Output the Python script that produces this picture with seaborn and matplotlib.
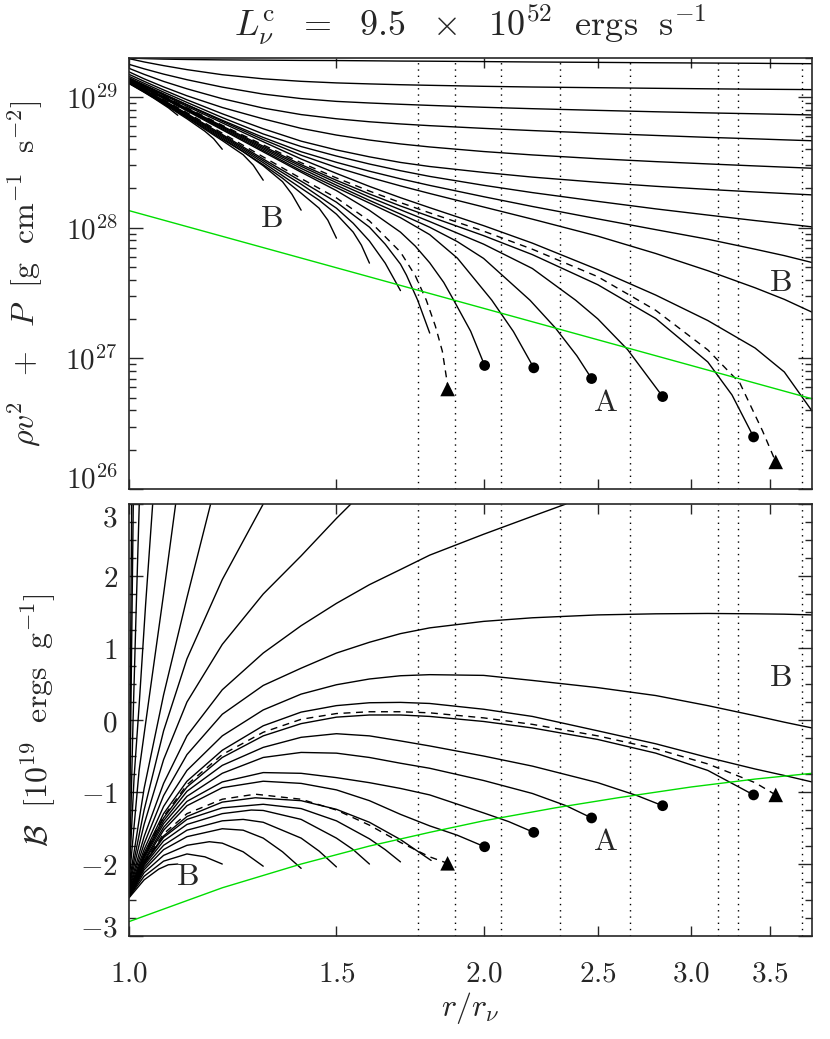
import numpy as np
import pandas as pd
import matplotlib
matplotlib.use('Agg')
import matplotlib.pyplot as plt
import seaborn as sns
from matplotlib.ticker import FixedLocator, FixedFormatter, NullLocator, NullFormatter, LogLocator, MultipleLocator

# ---------------- data ----------------
# common radius grid (r / r_nu) for the curves that run to the right edge
r_grid = [1.0, 1.03, 1.07, 1.12, 1.2, 1.3, 1.4, 1.5, 1.6, 1.7, 1.8, 2.0, 2.2, 2.5, 2.8, 3.1, 3.4, 3.6, 3.8]

# top panel: log10(rho v^2 + P) for the curves that leave through the right edge
top_open = [
    [29.298, 29.294, 29.290, 29.287, 29.284, 29.282, 29.280, 29.279, 29.277, 29.275, 29.274, 29.271, 29.268, 29.265, 29.262, 29.260, 29.258, 29.256, 29.255],
    [29.2936, 29.2683, 29.2401, 29.2095, 29.1705, 29.1391, 29.1200, 29.1078, 29.1002, 29.0940, 29.0894, 29.0818, 29.0764, 29.0711, 29.0665, 29.0627, 29.0596, 29.0581, 29.0566],
    [29.2500, 29.2156, 29.1751, 29.1323, 29.0757, 29.0222, 28.9878, 28.9664, 28.9541, 28.9442, 28.9358, 28.9213, 28.9105, 28.8976, 28.8869, 28.8784, 28.8716, 28.8670, 28.8624],
    [29.2194, 29.1735, 29.1193, 29.0627, 28.9870, 28.9151, 28.8654, 28.8333, 28.8104, 28.7936, 28.7806, 28.7599, 28.7431, 28.7225, 28.7057, 28.6911, 28.6797, 28.6720, 28.6651],
    [29.1927, 29.1391, 29.0772, 29.0092, 28.9197, 28.8326, 28.7599, 28.7087, 28.6705, 28.6407, 28.6177, 28.5826, 28.5566, 28.5275, 28.5053, 28.4878, 28.4725, 28.4633, 28.4549],
    [29.1735, 29.1200, 29.0543, 28.9786, 28.8716, 28.7569, 28.6621, 28.5948, 28.5420, 28.4992, 28.4679, 28.4228, 28.3868, 28.3471, 28.3165, 28.2928, 28.2729, 28.2615, 28.2507],
    [29.1583, 29.1047, 29.0375, 28.9587, 28.8425, 28.7171, 28.6208, 28.5481, 28.4870, 28.4358, 28.3922, 28.3242, 28.2683, 28.2011, 28.1437, 28.0963, 28.0543, 28.0298, 28.0061],
    [29.1468, 29.0925, 29.0237, 28.9411, 28.8219, 28.6904, 28.5810, 28.5000, 28.4320, 28.3738, 28.3234, 28.2370, 28.1621, 28.0673, 27.9847, 27.9113, 27.8349, 27.7859, 27.7332],
    [29.1430, 29.0894, 29.0206, 28.9396, 28.8142, 28.6743, 28.5543, 28.4610, 28.3853, 28.3196, 28.2615, 28.1582, 28.0650, 27.9350, 27.8020, 27.6705, 27.5397, 27.4511, 27.3532],
    [29.1391, 29.0849, 29.0138, 28.9289, 28.8020, 28.6575, 28.5252, 28.4151, 28.3157, 28.2294, 28.1529, 28.0153, 27.8815, 27.6789, 27.4839, 27.2890, 27.0787, 26.8952, 26.5971],
]

# top panel: curves that stop (A curves end in a dot, B curves just stop)
top_stop_r = [
    [1.0, 1.03, 1.07, 1.12, 1.2, 1.3, 1.4, 1.5, 1.6, 1.7, 1.8, 2.0, 2.2, 2.5, 2.8, 3.1, 3.25, 3.39],
    [1.0, 1.03, 1.07, 1.12, 1.2, 1.3, 1.4, 1.5, 1.6, 1.7, 1.8, 2.0, 2.2, 2.394, 2.5, 2.65, 2.838],
    [1.0, 1.03, 1.07, 1.12, 1.2, 1.3, 1.4, 1.5, 1.6, 1.7, 1.8, 1.9, 2.0, 2.19, 2.3, 2.4, 2.47],
    [1.0, 1.03, 1.07, 1.12, 1.2, 1.3, 1.4, 1.5, 1.6, 1.7, 1.8, 1.9, 2.032, 2.12, 2.206],
    [1.0, 1.03, 1.07, 1.12, 1.2, 1.3, 1.4, 1.5, 1.6, 1.7, 1.75, 1.8, 1.85, 1.883, 1.95, 2.004],
    [1.0, 1.03, 1.07, 1.12, 1.2, 1.3, 1.4, 1.5, 1.6, 1.65, 1.7, 1.72, 1.758, 1.8],
    [1.0, 1.03, 1.07, 1.12, 1.2, 1.3, 1.4, 1.5, 1.55, 1.6, 1.65, 1.7],
    [1.0, 1.03, 1.07, 1.12, 1.2, 1.3, 1.4, 1.45, 1.5, 1.55, 1.575, 1.6],
    [1.0, 1.03, 1.07, 1.12, 1.2, 1.3, 1.35, 1.4, 1.45, 1.475, 1.5],
    [1.0, 1.03, 1.07, 1.12, 1.2, 1.25, 1.3, 1.35, 1.375, 1.4],
    [1.0, 1.03, 1.07, 1.12, 1.2, 1.25, 1.275, 1.3],
    [1.0, 1.03, 1.07, 1.12, 1.16, 1.18, 1.2],
    [1.0, 1.03, 1.05, 1.08, 1.1],
]
top_stop = [
    [29.1330, 29.0772, 29.0031, 28.9136, 28.7775, 28.6231, 28.4824, 28.3624, 28.2576, 28.1659, 28.0856, 27.9388, 27.7936, 27.5634, 27.3043, 26.9717, 26.7194, 26.3983],
    [29.1307, 29.0742, 28.9992, 28.9090, 28.7714, 28.6124, 28.4694, 28.3448, 28.2339, 28.1368, 28.0466, 27.8738, 27.6873, 27.4449, 27.3020, 27.0665, 26.7072],
    [29.1284, 29.0719, 28.9962, 28.9044, 28.7645, 28.6017, 28.4534, 28.3249, 28.2087, 28.1040, 28.0031, 27.8930, 27.7645, 27.4442, 27.2347, 27.0191, 26.8448],
    [29.1261, 29.0688, 28.9924, 28.8991, 28.7561, 28.5902, 28.4358, 28.3066, 28.1881, 28.0764, 27.9465, 27.7668, 27.4457, 27.2049, 26.9273],
    [29.1239, 29.0657, 28.9885, 28.8937, 28.7485, 28.5803, 28.4243, 28.2836, 28.1323, 27.9656, 27.8586, 27.7309, 27.5810, 27.4579, 27.2072, 26.9450],
    [29.1193, 29.0573, 28.9748, 28.8731, 28.7133, 28.5252, 28.3555, 28.1949, 28.0038, 27.8738, 27.7209, 27.6368, 27.4457, 27.1934],
    [29.1170, 29.0543, 28.9709, 28.8670, 28.7049, 28.5122, 28.3326, 28.1491, 28.0336, 27.8975, 27.7286, 27.5183],
    [29.1147, 29.0512, 28.9664, 28.8609, 28.6965, 28.4977, 28.3020, 28.2102, 28.1032, 27.9656, 27.8662, 27.7286],
    [29.1124, 29.0482, 28.9618, 28.8540, 28.6865, 28.4816, 28.3784, 28.2638, 28.1491, 28.0573, 27.9197],
    [29.1101, 29.0451, 28.9572, 28.8471, 28.6766, 28.5810, 28.4740, 28.3517, 28.2561, 28.1338],
    [29.1078, 29.0420, 28.9534, 28.8417, 28.6667, 28.5581, 28.4778, 28.3631],
    [29.1055, 29.0390, 28.9480, 28.8333, 28.7378, 28.6804, 28.6001],
    [29.1032, 29.0359, 28.9901, 28.9174, 28.8601],
]

# top panel: the two dashed (critical) curves
top_dash_r = [
    [1.0, 1.03, 1.07, 1.12, 1.2, 1.3, 1.4, 1.5, 1.6, 1.7, 1.8, 2.0, 2.2, 2.5, 2.8, 3.1, 3.3, 3.45, 3.54],
    [1.0, 1.03, 1.07, 1.12, 1.2, 1.3, 1.4, 1.5, 1.6, 1.7, 1.75, 1.788, 1.82, 1.845, 1.864],
]
top_dash = [
    [29.1353, 29.0795, 29.0069, 28.9182, 28.7836, 28.6330, 28.4969, 28.3807, 28.2798, 28.1919, 28.1131, 27.9732, 27.8349, 27.6246, 27.3670, 27.0642, 26.8112, 26.4442, 26.2072],
    [29.1216, 29.0604, 28.9801, 28.8800, 28.7232, 28.5413, 28.3761, 28.2278, 28.0512, 27.8134, 27.6323, 27.4457, 27.2469, 27.0543, 26.7959],
]

# bottom panel: binding energy B [1e19 ergs/g]
bot_open = [
    [-2.40, -1.85, -1.30, -0.85, -0.42, -0.08, 0.11, 0.20, 0.24, 0.245, 0.23, 0.15, 0.05, -0.15, -0.33, -0.52, -0.68, -0.77, -0.86],
    [-2.38, -1.80, -1.20, -0.70, -0.22, 0.14, 0.36, 0.49, 0.57, 0.615, 0.63, 0.62, 0.55, 0.45, 0.34, 0.20, 0.06, -0.03, -0.11],
    [-2.36, -1.72, -1.05, -0.48, 0.08, 0.48, 0.72, 0.93, 1.08, 1.20, 1.28, 1.37, 1.42, 1.46, 1.475, 1.48, 1.475, 1.47, 1.46],
]
bot_steep_r = [
    [1.0, 1.03, 1.07, 1.12, 1.2, 1.3, 1.4, 1.5, 1.6, 1.7, 1.8, 2.0, 2.2, 2.349],
    [1.0, 1.03, 1.07, 1.12, 1.2, 1.3, 1.4, 1.5, 1.543],
    [1.0, 1.03, 1.07, 1.12, 1.2, 1.3],
    [1.0, 1.03, 1.07, 1.12, 1.173],
    [1.0, 1.02, 1.04, 1.07, 1.0955],
    [1.0, 1.01, 1.02, 1.033, 1.0474],
    [1.0, 1.004, 1.008, 1.014, 1.0203],
    [1.0, 1.0084],
    [1.0, 1.0053],
]
bot_steep = [
    [-2.34, -1.62, -0.88, -0.22, 0.42, 0.93, 1.31, 1.62, 1.88, 2.09, 2.29, 2.58, 2.83, 3.0],
    [-2.32, -1.45, -0.55, 0.25, 1.05, 1.75, 2.28, 2.80, 3.0],
    [-2.30, -1.25, -0.15, 0.85, 1.95, 3.0],
    [-2.28, -0.95, 0.35, 1.70, 3.0],
    [-2.26, -0.70, 0.30, 1.75, 3.0],
    [-2.24, -0.80, 0.20, 1.60, 3.0],
    [-2.22, -1.20, 0.00, 1.50, 3.0],
    [-2.20, 3.0],
    [-2.20, 3.0],
]
bot_stop_r = [
    [1.0, 1.03, 1.07, 1.12, 1.2, 1.3, 1.4, 1.5, 1.6, 1.7, 1.8, 2.0, 2.2, 2.5, 2.8, 3.1, 3.39],
    [1.0, 1.03, 1.07, 1.12, 1.2, 1.3, 1.4, 1.5, 1.6, 1.7, 1.8, 2.0, 2.2, 2.5, 2.7, 2.838],
    [1.0, 1.03, 1.07, 1.12, 1.2, 1.3, 1.4, 1.5, 1.6, 1.7, 1.8, 2.0, 2.2, 2.35, 2.47],
    [1.0, 1.03, 1.07, 1.12, 1.2, 1.3, 1.4, 1.5, 1.6, 1.7, 1.8, 2.0, 2.1, 2.206],
    [1.0, 1.03, 1.07, 1.12, 1.2, 1.3, 1.4, 1.5, 1.6, 1.7, 1.8, 1.9, 2.004],
    [1.0, 1.03, 1.07, 1.12, 1.2, 1.28, 1.4, 1.5, 1.6, 1.7, 1.805],
    [1.0, 1.03, 1.07, 1.12, 1.2, 1.3, 1.4, 1.5, 1.6, 1.65, 1.7],
    [1.0, 1.03, 1.07, 1.12, 1.2, 1.27, 1.3, 1.4, 1.5, 1.55, 1.6],
    [1.0, 1.03, 1.07, 1.12, 1.2, 1.25, 1.3, 1.4, 1.45, 1.5],
    [1.0, 1.03, 1.07, 1.12, 1.2, 1.25, 1.3, 1.35, 1.4],
    [1.0, 1.03, 1.07, 1.12, 1.17, 1.2, 1.25, 1.3],
    [1.0, 1.03, 1.07, 1.12, 1.16, 1.2],
    [1.0, 1.03, 1.06, 1.08, 1.1],
]
bot_stop = [
    [-2.41, -1.88, -1.36, -0.93, -0.52, -0.22, -0.05, 0.04, 0.07, 0.07, 0.05, -0.02, -0.11, -0.27, -0.46, -0.70, -1.04],
    [-2.42, -1.90, -1.40, -0.99, -0.63, -0.38, -0.24, -0.19, -0.22, -0.29, -0.36, -0.50, -0.64, -0.87, -1.05, -1.19],
    [-2.43, -1.92, -1.44, -1.06, -0.74, -0.52, -0.45, -0.46, -0.52, -0.60, -0.67, -0.84, -1.02, -1.19, -1.36],
    [-2.44, -1.95, -1.49, -1.13, -0.86, -0.73, -0.74, -0.80, -0.87, -0.95, -1.04, -1.29, -1.41, -1.56],
    [-2.45, -1.97, -1.53, -1.19, -0.94, -0.85, -0.88, -0.97, -1.12, -1.31, -1.47, -1.60, -1.76],
    [-2.45, -1.99, -1.61, -1.34, -1.14, -1.08, -1.12, -1.24, -1.42, -1.66, -1.95],
    [-2.45, -2.00, -1.63, -1.38, -1.22, -1.17, -1.23, -1.40, -1.65, -1.80, -1.97],
    [-2.45, -2.02, -1.68, -1.45, -1.30, -1.25, -1.256, -1.38, -1.64, -1.80, -2.00],
    [-2.46, -2.05, -1.74, -1.53, -1.40, -1.38, -1.42, -1.64, -1.82, -2.04],
    [-2.46, -2.08, -1.80, -1.62, -1.51, -1.53, -1.64, -1.83, -2.06],
    [-2.46, -2.12, -1.88, -1.74, -1.69, -1.71, -1.83, -2.03],
    [-2.46, -2.17, -1.96, -1.86, -1.90, -2.00],
    [-2.47, -2.22, -2.07, -2.01, -2.00],
]
bot_dash_r = [
    [1.0, 1.03, 1.07, 1.12, 1.2, 1.3, 1.4, 1.5, 1.6, 1.7, 1.8, 2.0, 2.2, 2.5, 2.8, 3.1, 3.4, 3.54],
    [1.0, 1.03, 1.07, 1.12, 1.2, 1.28, 1.4, 1.5, 1.6, 1.7, 1.8, 1.864],
]
bot_dash = [
    [-2.41, -1.87, -1.34, -0.90, -0.48, -0.17, 0.01, 0.09, 0.115, 0.115, 0.10, 0.03, -0.06, -0.22, -0.40, -0.61, -0.87, -1.04],
    [-2.45, -1.98, -1.58, -1.30, -1.10, -1.03, -1.10, -1.25, -1.46, -1.70, -1.90, -1.99],
]

# end markers
dot_r = [2.004, 2.206, 2.47, 2.838, 3.39]
dot_top = [26.945, 26.927, 26.845, 26.707, 26.398]
dot_bot = [-1.76, -1.56, -1.36, -1.19, -1.04]
tri_r = [1.864, 3.54]
tri_top = [26.765, 26.207]
tri_bot = [-1.99, -1.04]

# green reference curves
green_top_r = [1.0, 3.8]
green_top = [1.35e28, 4.9e26]
green_bot_r = [1.0, 1.2, 1.4, 1.6, 1.8, 2.0, 2.3, 2.6, 3.0, 3.4, 3.8]
green_bot = [-2.80, -2.33, -2.00, -1.75, -1.56, -1.40, -1.22, -1.08, -0.93, -0.82, -0.74]

# dotted verticals
vlines_r = [1.76, 1.89, 2.07, 2.32, 2.66, 3.16, 3.29, 3.73]

xticks = [1.0, 1.5, 2.0, 2.5, 3.0, 3.5]
xticklabels = ['1.0', '1.5', '2.0', '2.5', '3.0', '3.5']


def long_form(rs, ys, log=False):
    rows = []
    for i, (rr, yy) in enumerate(zip(rs, ys)):
        for a, b in zip(rr, yy):
            rows.append((i, a, 10 ** b if log else b))
    return pd.DataFrame(rows, columns=['curve', 'r', 'y'])


sns.set_style('ticks')
plt.rcParams['font.family'] = ['DejaVu Serif']
plt.rcParams['mathtext.fontset'] = 'cm'
plt.rcParams['axes.linewidth'] = 1.2

fig = plt.figure(figsize=(8.3, 10.39), dpi=100)
ax1 = fig.add_axes([0.1554, 0.5294, 0.8229, 0.4151])
ax2 = fig.add_axes([0.1554, 0.0991, 0.8229, 0.4158])

for ax in (ax1, ax2):
    ax.set_xscale('log')
ax1.set_yscale('log')

lw = 1.0
dash = (0, (5, 4))

# top panel
df = long_form([r_grid] * len(top_open) + top_stop_r, top_open + top_stop, log=True)
sns.lineplot(data=df, x='r', y='y', units='curve', estimator=None, sort=False,
             color='black', lw=lw, ax=ax1)
df = long_form(top_dash_r, top_dash, log=True)
sns.lineplot(data=df, x='r', y='y', units='curve', estimator=None, sort=False,
             color='black', lw=lw, ls=dash, ax=ax1)
sns.lineplot(x=green_top_r, y=green_top, color='#00dd00', lw=lw, ax=ax1)
sns.scatterplot(x=dot_r, y=[10 ** v for v in dot_top], marker='o', s=60,
                color='black', edgecolor='none', zorder=5, ax=ax1)
sns.scatterplot(x=tri_r, y=[10 ** v for v in tri_top], marker='^', s=110,
                color='black', edgecolor='none', zorder=5, ax=ax1)

# bottom panel
df = long_form([r_grid] * len(bot_open) + bot_steep_r + bot_stop_r,
               bot_open + bot_steep + bot_stop)
sns.lineplot(data=df, x='r', y='y', units='curve', estimator=None, sort=False,
             color='black', lw=lw, ax=ax2)
df = long_form(bot_dash_r, bot_dash)
sns.lineplot(data=df, x='r', y='y', units='curve', estimator=None, sort=False,
             color='black', lw=lw, ls=dash, ax=ax2)
sns.lineplot(x=green_bot_r, y=green_bot, color='#00dd00', lw=lw, ax=ax2)
sns.scatterplot(x=dot_r, y=dot_bot, marker='o', s=60,
                color='black', edgecolor='none', zorder=5, ax=ax2)
sns.scatterplot(x=tri_r, y=tri_bot, marker='^', s=110,
                color='black', edgecolor='none', zorder=5, ax=ax2)

for ax in (ax1, ax2):
    for v in vlines_r:
        ax.axvline(v, color='black', lw=1.0, ls=(0, (1, 3.5)), zorder=1)
    ax.set_xlim(1.0, 3.8)
    ax.xaxis.set_major_locator(FixedLocator(xticks))
    ax.xaxis.set_minor_locator(NullLocator())
    ax.tick_params(which='both', direction='in', top=True, right=True, width=1.0)
    ax.tick_params(axis='x', which='major', length=7)
    ax.tick_params(axis='y', which='major', length=10, pad=8)
    ax.tick_params(axis='y', which='minor', length=5)
    ax.set_xlabel('')
    ax.set_ylabel('')
    for s in ax.spines.values():
        s.set_linewidth(1.2)

ax1.set_ylim(1e26, 2e29)
ax1.yaxis.set_major_locator(FixedLocator([1e26, 1e27, 1e28, 1e29]))
ax1.yaxis.set_major_formatter(FixedFormatter([r'$10^{26}$', r'$10^{27}$', r'$10^{28}$', r'$10^{29}$']))
ax1.yaxis.set_minor_locator(LogLocator(base=10, subs=range(2, 10)))
ax1.xaxis.set_major_formatter(NullFormatter())

ax2.set_ylim(-3, 3)
ax2.yaxis.set_major_locator(FixedLocator([-3, -2, -1, 0, 1, 2, 3]))
ax2.yaxis.set_major_formatter(FixedFormatter([r'$-3$', r'$-2$', r'$-1$', r'$0$', r'$1$', r'$2$', r'$3$']))
ax2.yaxis.set_minor_locator(MultipleLocator(0.25))
ax2.xaxis.set_major_formatter(FixedFormatter(['$' + t + '$' for t in xticklabels]))
ax2.tick_params(axis='x', which='major', pad=17)

for ax in (ax1, ax2):
    for lab in ax.get_xticklabels() + ax.get_yticklabels():
        lab.set_fontsize(21)

fig.canvas.draw()
ylabs = ax1.get_yticklabels()
ylabs[0].set_va('baseline')
ylabs = ax2.get_yticklabels()
ylabs[0].set_va('baseline')
ylabs[-1].set_va('top')

# panel letters
txt = dict(ha='center', va='center', fontsize=23)
ax1.text(1.32, 1.18e28, r'$\rm B$', **txt)
ax1.text(3.57, 3.8e27, r'$\rm B$', **txt)
ax1.text(2.54, 4.6e26, r'$\rm A$', **txt)
ax2.text(1.12, -2.18, r'$\rm B$', **txt)
ax2.text(3.57, 0.59, r'$\rm B$', **txt)
ax2.text(2.54, -1.69, r'$\rm A$', **txt)

fig.text(0.567, 0.976, r'$L_\nu^{\rm c}\ \ =\ \ 9.5\ \ \times\ \ 10^{52}\ \ {\rm ergs\ \ s^{-1}}$',
         ha='center', va='center', fontsize=26)
fig.text(0.030, 0.737, r'$\rho v^2\ \ +\ \ P\ \ [{\rm g\ \ cm^{-1}\ \ s^{-2}}]$',
         rotation=90, ha='center', va='center', fontsize=23)
fig.text(0.046, 0.307, r'$\mathcal{B}\ \ [10^{19}\ \ {\rm ergs\ \ g^{-1}}]$',
         rotation=90, ha='center', va='center', fontsize=23)
fig.text(0.567, 0.030, r'$r/r_\nu$', ha='center', va='center', fontsize=23)

fig.savefig('out.png', dpi=100)
